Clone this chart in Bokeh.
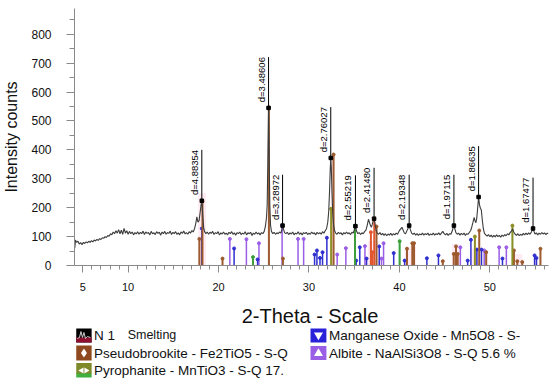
from math import pi
from bokeh.plotting import figure
from bokeh.layouts import column
from bokeh.models import Range1d, FixedTicker
from bokeh.core.properties import value
from bokeh.embed import file_html
from bokeh.resources import INLINE

# ---------------- data ----------------
# measured pattern (2-theta, counts)
tt = [4.10, 4.18, 4.30, 4.45, 4.60, 4.75, 4.90, 5.05, 5.20, 5.35, 5.50, 5.65, 5.80, 5.95, 6.10, 6.25,
      6.40, 6.55, 6.70, 6.85, 7.00, 7.15, 7.30, 7.45, 7.60, 7.75, 7.90, 8.05, 8.20, 8.35, 8.50, 8.65,
      8.80, 8.95, 9.10, 9.25, 9.40, 9.55, 9.70, 9.85, 10.00, 10.15, 10.30, 10.45, 10.60, 10.75, 10.90,
      11.05, 11.20, 11.35, 11.50, 11.65, 11.80, 11.95, 12.10, 12.25, 12.40, 12.55, 12.70, 12.85, 13.00,
      13.15, 13.30, 13.45, 13.60, 13.75, 13.90, 14.05, 14.20, 14.35, 14.50, 14.65, 14.80, 14.95, 15.10,
      15.25, 15.40, 15.55, 15.70, 15.85, 16.00, 16.15, 16.30, 16.45, 16.60, 16.75, 16.90, 17.05, 17.20,
      17.35, 17.48, 17.60, 17.72, 17.85, 17.97, 18.07, 18.15, 18.25, 18.35, 18.45, 18.60, 18.75, 18.90,
      19.05, 19.20, 19.35, 19.50, 19.65, 19.80, 19.95, 20.10, 20.25, 20.40, 20.55, 20.70, 20.85, 21.00,
      21.15, 21.30, 21.45, 21.60, 21.75, 21.90, 22.05, 22.20, 22.35, 22.50, 22.65, 22.80, 22.95, 23.10,
      23.25, 23.40, 23.55, 23.70, 23.85, 24.00, 24.15, 24.30, 24.45, 24.60, 24.75, 24.90, 25.05, 25.18,
      25.30, 25.38, 25.45, 25.53, 25.60, 25.67, 25.75, 25.85, 26.00, 26.15, 26.30, 26.45, 26.60, 26.75,
      26.90, 27.00, 27.08, 27.18, 27.30, 27.45, 27.60, 27.75, 27.90, 28.05, 28.20, 28.35, 28.50, 28.65,
      28.80, 28.95, 29.10, 29.25, 29.40, 29.55, 29.70, 29.85, 30.00, 30.15, 30.30, 30.45, 30.60, 30.75,
      30.90, 31.05, 31.20, 31.35, 31.50, 31.65, 31.80, 31.95, 32.08, 32.18, 32.28, 32.35, 32.41, 32.47,
      32.55, 32.63, 32.72, 32.82, 32.95, 33.10, 33.25, 33.40, 33.55, 33.70, 33.85, 34.00, 34.15, 34.30,
      34.45, 34.60, 34.75, 34.90, 35.02, 35.14, 35.25, 35.40, 35.55, 35.70, 35.85, 36.00, 36.15, 36.30,
      36.45, 36.58, 36.68, 36.80, 36.90, 37.00, 37.10, 37.20, 37.30, 37.42, 37.55, 37.70, 37.85, 38.00,
      38.15, 38.30, 38.45, 38.60, 38.75, 38.90, 39.05, 39.20, 39.35, 39.50, 39.65, 39.80, 39.95, 40.10,
      40.28, 40.42, 40.55, 40.68, 40.80, 40.95, 41.08, 41.20, 41.35, 41.50, 41.65, 41.80, 41.95, 42.10,
      42.25, 42.40, 42.55, 42.70, 42.85, 43.00, 43.15, 43.30, 43.45, 43.60, 43.75, 43.90, 44.05, 44.20,
      44.35, 44.50, 44.65, 44.80, 44.95, 45.10, 45.25, 45.40, 45.55, 45.70, 45.85, 45.95, 46.03, 46.12,
      46.25, 46.40, 46.55, 46.70, 46.85, 47.00, 47.15, 47.30, 47.45, 47.60, 47.75, 47.90, 48.02, 48.14,
      48.26, 48.36, 48.46, 48.56, 48.66, 48.76, 48.86, 48.96, 49.06, 49.16, 49.28, 49.40, 49.55, 49.70,
      49.85, 50.00, 50.15, 50.30, 50.45, 50.60, 50.75, 50.90, 51.05, 51.20, 51.35, 51.50, 51.65, 51.80,
      51.95, 52.10, 52.25, 52.40, 52.52, 52.65, 52.80, 52.95, 53.10, 53.25, 53.40, 53.55, 53.70, 53.85,
      54.00, 54.15, 54.30, 54.45, 54.60, 54.70, 54.78, 54.88, 55.00, 55.15, 55.30, 55.45, 55.60, 55.75,
      55.90, 56.05, 56.20, 56.35, 56.48]
counts = [60, 88, 80, 84, 74, 79, 72, 80, 76, 82, 78, 84, 80, 86, 82, 88,
          85, 90, 87, 93, 90, 96, 94, 100, 97, 104, 101, 110, 106, 116, 110, 120,
          112, 124, 110, 122, 108, 128, 112, 120, 108, 118, 110, 116, 106, 114, 109,
          117, 108, 115, 110, 119, 107, 116, 111, 114, 106, 118, 110, 113, 107,
          117, 111, 115, 105, 116, 110, 118, 108, 114, 111, 119, 107, 115, 110,
          117, 108, 113, 106, 116, 111, 119, 109, 114, 108, 117, 112, 121, 116,
          128, 145, 168, 150, 155, 185, 210, 224, 175, 132, 118, 110, 116, 108,
          115, 111, 118, 107, 114, 110, 117, 106, 113, 109, 116, 108, 112, 106,
          115, 110, 117, 108, 113, 105, 114, 110, 116, 107, 112, 109, 117, 106,
          113, 110, 115, 104, 112, 108, 116, 109, 113, 106, 114, 110, 118, 135,
          165, 210, 360, 545, 380, 210, 140, 118, 110, 115, 108, 113, 110, 116,
          112, 124, 138, 126, 114, 110, 115, 107, 113, 109, 116, 106, 112, 109,
          117, 108, 113, 106, 114, 110, 115, 107, 112, 108, 116, 110, 113, 106,
          115, 109, 114, 108, 117, 112, 120, 128, 150, 185, 260, 330, 372, 340,
          250, 180, 140, 122, 112, 108, 115, 110, 113, 106, 114, 109, 116, 110,
          113, 107, 115, 112, 124, 136, 120, 110, 114, 107, 113, 110, 117, 122,
          140, 160, 150, 138, 132, 142, 155, 162, 145, 122, 112, 108, 114, 106,
          111, 104, 110, 103, 109, 105, 111, 104, 110, 106, 112, 108, 118, 125,
          132, 122, 112, 110, 118, 128, 138, 125, 112, 108, 112, 105, 110, 104,
          109, 106, 112, 105, 110, 107, 112, 104, 109, 106, 112, 105, 110, 107,
          113, 106, 112, 118, 110, 106, 111, 104, 110, 108, 120, 132, 138, 128,
          114, 108, 112, 105, 111, 107, 112, 104, 110, 108, 115, 122, 135, 150,
          166, 155, 148, 165, 200, 237, 210, 198, 192, 160, 128, 112, 106, 102,
          107, 100, 105, 98, 104, 99, 106, 100, 104, 98, 105, 101, 107, 103,
          110, 106, 114, 120, 126, 116, 108, 104, 110, 103, 108, 104, 111, 106,
          112, 107, 113, 108, 116, 124, 128, 118, 109, 113, 106, 112, 108, 114,
          109, 113, 107, 112, 110]

# labelled peaks
peak_tt = [18.15, 25.53, 27.08, 32.41, 35.14, 37.20, 41.08, 46.03, 48.76, 54.78]
peak_ct = [224, 545, 138, 372, 136, 162, 138, 138, 237, 128]
peak_lbl = ["d=4.88354", "d=3.48606", "d=3.28972", "d=2.76027", "d=2.55219",
            "d=2.41480", "d=2.19348", "d=1.97115", "d=1.86635", "d=1.67477"]

# reference sticks per phase
pb_tt = [17.88, 18.22, 20.44, 25.57, 27.12, 32.72, 37.47, 40.84, 41.43, 41.62, 44.80,
         46.01, 46.26, 46.45, 48.83, 49.60, 52.67, 53.04, 53.59, 55.60]
pb_h = [92, 222, 24, 547, 24, 384, 135, 58, 77, 77, 15, 40, 66, 40, 121, 46, 52, 15, 12, 58]

py_tt = [23.81, 35.09, 40.03]
py_h = [29, 138, 84]

ol_tt = [32.45, 48.35, 52.50]
ol_h = [196, 100, 138]

rd_tt = [36.85, 37.00, 37.22]
rd_h = [115, 46, 161]

mn_tt = [18.15, 21.72, 24.32, 30.62, 30.88, 31.22, 31.50, 31.98, 35.22, 35.62, 36.37, 37.77,
         39.37, 40.58, 43.04, 44.32, 47.55, 47.91, 48.57, 49.08, 51.40, 54.95, 55.16]
mn_h = [128, 59, 21, 38, 52, 26, 46, 96, 17, 63, 24, 66, 43, 17, 25, 35, 17, 89, 55, 55, 24, 35, 26]

ab_tt = [21.25, 23.08, 24.47, 27.03, 28.79, 29.41, 33.12, 34.08, 36.19, 38.02, 38.25, 46.74,
         49.38, 51.03, 51.83]
ab_h = [92, 91, 77, 138, 92, 92, 38, 60, 67, 24, 77, 63, 52, 63, 63]

# faint highlight bands
band_lo = [17.75, 32.40, 36.50, 40.60, 45.80, 48.00, 52.70]
band_hi = [18.60, 32.74, 37.70, 41.80, 46.60, 48.90, 53.60]
band_top = [250, 372, 85, 65, 75, 60, 40]
cy_lo = [39.85, 52.35]
cy_hi = [40.15, 52.65]
cy_top = [95, 140]

x_ticks = [5, 10, 20, 30, 40, 50]
x_minor = list(range(5, 57))
y_ticks = [0, 100, 200, 300, 400, 500, 600, 700, 800]
y_minor = [50, 150, 250, 350, 450, 550, 650, 750, 850]

legend_names = ["N 1", "Pseudobrookite - Fe2TiO5 - S-Q", "Pyrophanite - MnTiO3 - S-Q 17.",
                "Manganese Oxide - Mn5O8 - S-", "Albite - NaAlSi3O8 - S-Q 5.6 %"]

FONT = "Liberation Sans"
C_AB, C_MN, C_PB, C_OL, C_PY, C_RD = "#9A5DE6", "#2F2FD0", "#9C5A2E", "#8E8E26", "#3E9E3A", "#E2562E"

# ---------------- main figure ----------------
p = figure(width=550, height=298, output_backend="svg", toolbar_location=None,
           x_range=Range1d(4.07, 56.49), y_range=Range1d(0, 889),
           min_border_left=71, min_border_right=2, min_border_top=8, min_border_bottom=33)
p.xgrid.visible = False
p.ygrid.visible = False
p.outline_line_color = None

ax_col = "#8a8a8a"
for ax in (p.xaxis[0], p.yaxis[0]):
    ax.axis_line_color = ax_col
    ax.major_tick_line_color = ax_col
    ax.minor_tick_line_color = ax_col
    ax.major_tick_in = 0
    ax.minor_tick_in = 0
    ax.major_label_text_color = "#111111"
    ax.major_label_text_font = FONT

p.xaxis.ticker = FixedTicker(ticks=x_ticks, minor_ticks=x_minor)
p.xaxis.major_tick_out = 7
p.xaxis.minor_tick_out = 4
p.xaxis.major_label_text_font_size = "11px"
p.xaxis.major_label_standoff = 10

p.yaxis.ticker = FixedTicker(ticks=y_ticks, minor_ticks=y_minor)
p.yaxis.major_tick_out = 8
p.yaxis.minor_tick_out = 5
p.yaxis.major_label_text_font_size = "12px"
p.yaxis.major_label_standoff = 15
p.yaxis.axis_label = "Intensity counts"
p.yaxis.axis_label_text_font = FONT
p.yaxis.axis_label_text_font_size = "16px"
p.yaxis.axis_label_text_font_style = "normal"
p.yaxis.axis_label_text_color = "#111111"
p.yaxis.axis_label_standoff = 8

# highlight bands
p.quad(left=band_lo, right=band_hi, bottom=0, top=band_top, fill_color="#FFD3E4",
       fill_alpha=0.45, line_color=None)
p.quad(left=cy_lo, right=cy_hi, bottom=0, top=cy_top, fill_color="#CFFFF0",
       fill_alpha=0.6, line_color=None)

def sticks(xs, hs, col, lw):
    p.segment(x0=xs, y0=[0] * len(xs), x1=xs, y1=hs, line_color=col, line_width=lw)
    p.scatter(xs, hs, marker="circle", size=3, fill_color=col, line_color=col)

sticks(ab_tt, ab_h, C_AB, 1.5)
sticks(mn_tt, mn_h, C_MN, 1.5)
sticks(pb_tt, pb_h, C_PB, 2)
sticks(ol_tt, ol_h, C_OL, 2)
sticks(py_tt, py_h, C_PY, 2)
sticks(rd_tt, rd_h, C_RD, 2)

# measured pattern
p.line(tt, counts, line_color="#3c3c3c", line_width=1.1)

# peak labels
top = [c + 176 for c in peak_ct]
p.segment(x0=peak_tt, y0=peak_ct, x1=peak_tt, y1=top, line_color="black", line_width=1)
p.scatter(peak_tt, peak_ct, marker="square", size=3.5, fill_color="black", line_color="black")
p.text(x=peak_tt, y=top, text=peak_lbl, angle=pi / 2, text_align="right",
       text_baseline="bottom", x_offset=-2, text_color="black",
       text_font=value(FONT), text_font_size="9.5px")

# ---------------- title + legend strip (pixel coordinates, y downward) ----------------
q = figure(width=550, height=84, output_backend="svg", toolbar_location=None,
           x_range=Range1d(71, 548), y_range=Range1d(84, 0),
           x_axis_type=None, y_axis_type=None,
           min_border_left=71, min_border_right=2, min_border_top=0, min_border_bottom=0)
q.xgrid.visible = False
q.ygrid.visible = False
q.outline_line_color = None

q.text(x=[308], y=[17], text=["2-Theta - Scale"], text_align="center",
       text_baseline="middle", text_font=value(FONT), text_font_size="20px",
       text_color="#111111")

r1, r2, r3 = 37, 54.5, 72
# icons
q.rect(x=[80.5], y=[r1], width=15.5, height=14, fill_color="black", line_color=None)
q.rect(x=[80.5], y=[r1 + 4.5], width=15.5, height=5, fill_color="#8E1030", line_color=None)
q.line(x=[74, 76, 77.5, 79, 80.5, 82, 84, 87], y=[r1 + 3, r1 + 2, r1 - 4, r1 + 2, r1 - 3, r1 + 3, r1 + 1, r1 + 2],
       line_color="#cccccc", line_width=1)
q.rect(x=[80.5], y=[r2], width=15.5, height=15, fill_color="#8E4A1E", line_color=None)
q.scatter(x=[80.5], y=[r2], marker="diamond", size=9, fill_color="white", line_color=None)
q.rect(x=[80.5], y=[r3 - 2], width=15.5, height=11, fill_color="#7E8A2A", line_color=None)
q.rect(x=[80.5], y=[r3 + 5], width=15.5, height=4, fill_color="#3FB03F", line_color=None)
q.scatter(x=[78.3, 82.7], y=[r3, r3], marker="triangle", size=6, angle=[pi / 2, -pi / 2],
          fill_color="white", line_color=None)
q.rect(x=[316.5], y=[r1], width=16, height=14, fill_color="#2A22D8", line_color=None)
q.scatter(x=[316.5], y=[r1 - 0.5], marker="inverted_triangle", size=9, fill_color="white", line_color=None)
q.rect(x=[316.5], y=[r2], width=16, height=14, fill_color="#9A5DE6", line_color=None)
q.scatter(x=[316.5], y=[r2 + 0.5], marker="triangle", size=9, fill_color="white", line_color=None)

q.text(x=[90.5, 90.5, 90.5, 327, 327], y=[r1, r2, r3, r1, r2], text=legend_names,
       text_align="left", text_baseline="middle", text_font=value(FONT),
       text_font_size="13.5px", text_color="#111111")
q.text(x=[124.5], y=[r1 - 1], text=["Smelting"], text_align="left", text_baseline="middle",
       text_font=value(FONT), text_font_size="12.5px", text_color="#111111")

layout = column(p, q, spacing=0)
open("out.html", "w").write(file_html(layout, INLINE))
